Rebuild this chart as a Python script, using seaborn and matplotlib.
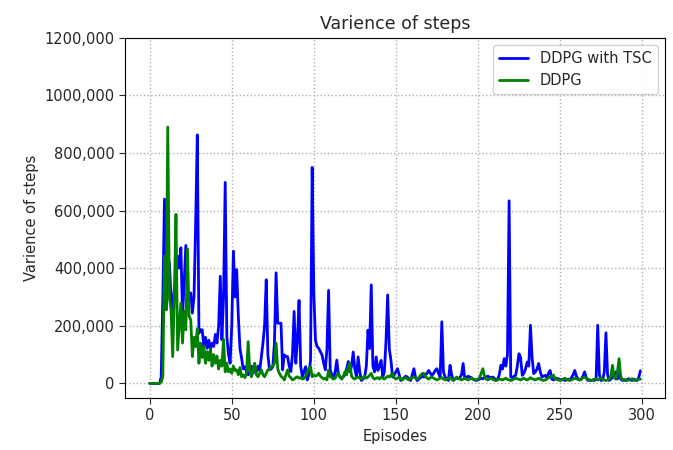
import numpy as np
import pandas as pd
import seaborn as sns
import matplotlib
matplotlib.use("Agg")
import matplotlib.pyplot as plt
from matplotlib.ticker import FuncFormatter

# values in thousands of steps^2, one per episode (0..299)
tsc = [
    0, 0, 0, 0, 0, 0, 0, 23, 300, 640,
    256, 330, 419, 300, 256, 330, 372, 442, 400, 471,
    233, 350, 479, 302, 314, 314, 244, 302, 560, 863,
    174, 186, 186, 128, 160, 122, 150, 119, 140, 128,
    170, 140, 200, 372, 151, 300, 698, 163, 100, 70,
    200, 459, 300, 395, 233, 120, 87, 50, 58, 40,
    30, 45, 60, 35, 50, 40, 60, 45, 90, 140,
    200, 360, 100, 47, 50, 58, 140, 384, 209, 209,
    209, 47, 99, 93, 93, 60, 41, 100, 250, 70,
    150, 288, 60, 23, 40, 58, 12, 30, 80, 750,
    314, 150, 128, 122, 110, 99, 70, 47, 120, 323,
    47, 30, 17, 40, 81, 30, 23, 20, 23, 30,
    50, 76, 40, 60, 109, 50, 22, 92, 40, 10,
    15, 22, 60, 185, 121, 342, 60, 40, 92, 45,
    60, 80, 22, 40, 150, 307, 120, 80, 22, 30,
    40, 51, 30, 10, 15, 20, 25, 22, 15, 10,
    30, 51, 20, 10, 15, 20, 25, 22, 30, 35,
    45, 35, 28, 35, 45, 51, 35, 22, 214, 40,
    22, 15, 10, 63, 30, 10, 15, 20, 16, 20,
    30, 69, 16, 20, 25, 22, 20, 15, 12, 10,
    12, 15, 18, 16, 20, 22, 25, 22, 20, 22,
    18, 10, 15, 30, 63, 50, 86, 60, 100, 634,
    22, 20, 25, 28, 60, 103, 90, 28, 35, 50,
    74, 60, 202, 90, 34, 40, 50, 69, 40, 22,
    25, 28, 20, 35, 45, 15, 12, 15, 18, 16,
    14, 12, 15, 10, 12, 15, 12, 20, 30, 45,
    25, 15, 12, 15, 25, 40, 20, 10, 12, 10,
    12, 10, 15, 202, 30, 10, 12, 40, 176, 30,
    10, 15, 20, 25, 40, 15, 35, 15, 10, 12,
    10, 14, 16, 12, 10, 15, 12, 10, 20, 44,
]

ddpg = [
    0, 0, 0, 0, 0, 0, 0, 5, 23, 442,
    256, 890, 300, 256, 93, 300, 587, 116, 200, 279,
    140, 250, 186, 467, 233, 221, 93, 160, 128, 190,
    70, 140, 90, 130, 70, 110, 80, 120, 60, 100,
    70, 95, 50, 80, 60, 153, 40, 70, 40, 50,
    35, 60, 45, 47, 30, 55, 23, 30, 20, 35,
    145, 40, 23, 45, 70, 30, 23, 35, 47, 30,
    23, 35, 47, 50, 58, 60, 70, 140, 50, 35,
    25, 20, 12, 30, 47, 25, 20, 12, 15, 20,
    23, 18, 20, 15, 17, 25, 40, 52, 58, 23,
    30, 25, 28, 35, 25, 20, 15, 18, 12, 46,
    23, 20, 15, 18, 30, 35, 20, 15, 25, 41,
    30, 57, 70, 25, 18, 15, 20, 22, 18, 15,
    20, 25, 18, 22, 28, 35, 20, 15, 18, 20,
    15, 22, 18, 15, 20, 25, 22, 30, 35, 20,
    15, 18, 22, 15, 12, 18, 20, 15, 12, 18,
    20, 22, 18, 15, 20, 28, 34, 35, 25, 18,
    15, 20, 22, 18, 15, 12, 15, 18, 20, 15,
    12, 15, 18, 20, 15, 12, 15, 22, 18, 15,
    12, 15, 18, 15, 12, 15, 18, 15, 14, 12,
    15, 20, 35, 51, 25, 15, 12, 15, 18, 14,
    12, 10, 12, 15, 14, 12, 15, 18, 14, 12,
    10, 12, 15, 18, 16, 14, 12, 15, 18, 14,
    12, 15, 20, 16, 14, 12, 15, 18, 14, 12,
    10, 12, 15, 20, 22, 25, 29, 18, 14, 12,
    10, 12, 15, 18, 14, 12, 10, 12, 15, 18,
    16, 14, 12, 15, 20, 22, 18, 14, 12, 10,
    12, 15, 14, 12, 15, 18, 14, 12, 10, 12,
    15, 25, 63, 20, 15, 40, 86, 25, 12, 14,
    12, 10, 12, 14, 16, 12, 10, 12, 14, 15,
]

episodes = np.arange(len(tsc))
series_names = ["DDPG with TSC", "DDPG"]
series_colors = ["#0000ff", "#008000"]

df = pd.DataFrame({
    "Episodes": np.concatenate([episodes, episodes]),
    "value": np.concatenate([tsc, ddpg]),
    "series": [series_names[0]] * len(tsc) + [series_names[1]] * len(ddpg),
})

sns.set_style("ticks")
plt.rcParams["font.family"] = ["DejaVu Sans"]

fig = plt.figure(figsize=(6.73, 4.5), dpi=100)
ax = fig.add_axes([0.186, 0.116, 0.802, 0.80])

sns.lineplot(data=df, x="Episodes", y="value", hue="series",
             palette=series_colors, linewidth=2, ax=ax)

ax.set_ylim(-50, 1200)
ax.set_yticks(np.arange(0, 1201, 200))
ax.yaxis.set_major_formatter(FuncFormatter(lambda v, p: "0" if v == 0 else f"{v:.0f},000"))
ax.set_xticks(np.arange(0, 301, 50))
ax.grid(True, linestyle=":", color="#b0b0b0", linewidth=1)

ax.set_title("Varience of steps", fontsize=12.5)
ax.set_xlabel("Episodes", fontsize=10.5)
ax.set_ylabel("Varience of steps", fontsize=10.5)
ax.tick_params(labelsize=10.5, direction="out", length=4)
for s in ax.spines.values():
    s.set_color("black")

leg = ax.legend(loc="upper right", fontsize=10.5, framealpha=0.9)
leg.set_title(None)

fig.savefig("out.png", dpi=100)
